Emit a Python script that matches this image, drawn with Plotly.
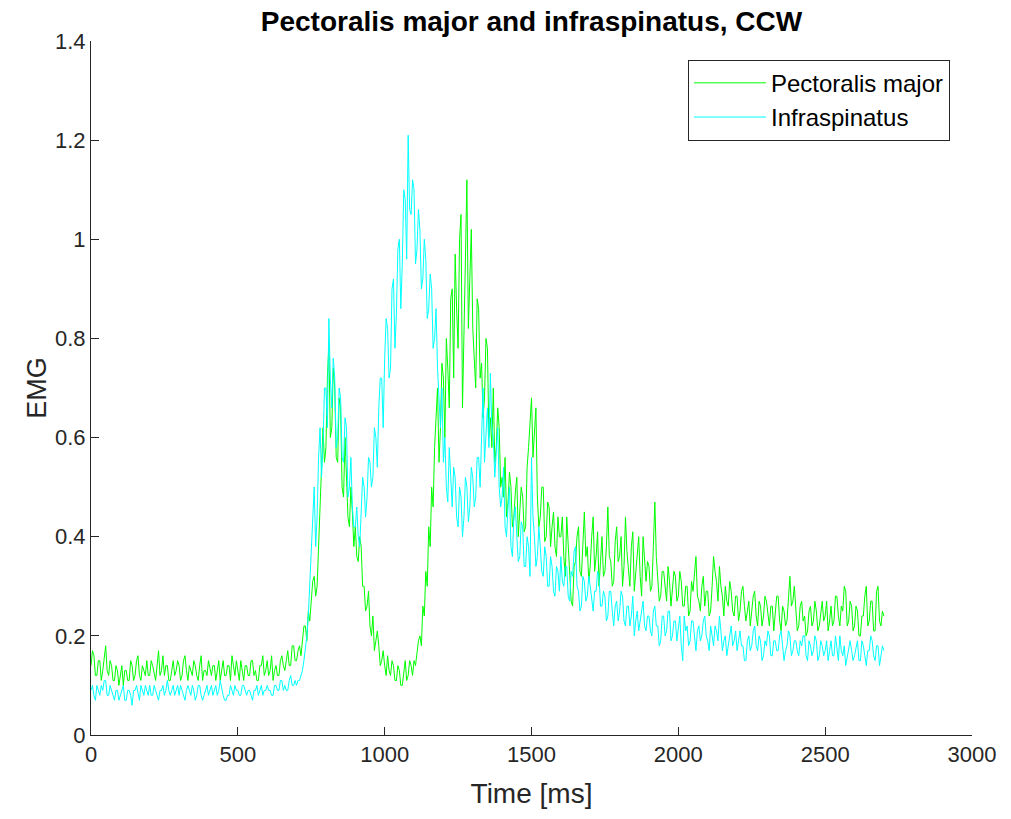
import plotly.graph_objects as go

# time axis: samples every 5 ms from 0 to 2700 ms
time_ms = list(range(0, 2701, 5))

pectoralis_major = [
    0.14, 0.17, 0.16, 0.12, 0.12, 0.15, 0.15, 0.11, 0.13, 0.16, 0.18, 0.13, 0.12, 0.15, 0.14, 0.11, 0.11, 0.14, 0.13, 0.10,
    0.12, 0.14, 0.10, 0.13, 0.13, 0.11, 0.11, 0.15, 0.14, 0.11, 0.12, 0.15, 0.16, 0.12, 0.11, 0.14, 0.13, 0.12, 0.15, 0.12,
    0.12, 0.15, 0.14, 0.12, 0.11, 0.14, 0.17, 0.12, 0.13, 0.16, 0.12, 0.14, 0.14, 0.11, 0.11, 0.13, 0.15, 0.12, 0.13, 0.15,
    0.14, 0.11, 0.12, 0.15, 0.16, 0.13, 0.11, 0.14, 0.13, 0.12, 0.15, 0.14, 0.12, 0.11, 0.14, 0.16, 0.11, 0.13, 0.13, 0.12,
    0.15, 0.13, 0.12, 0.14, 0.14, 0.11, 0.13, 0.15, 0.11, 0.13, 0.15, 0.12, 0.12, 0.14, 0.14, 0.11, 0.16, 0.14, 0.12, 0.15,
    0.13, 0.11, 0.15, 0.13, 0.11, 0.14, 0.14, 0.12, 0.12, 0.15, 0.15, 0.12, 0.13, 0.11, 0.11, 0.14, 0.14, 0.16, 0.12, 0.13,
    0.15, 0.12, 0.13, 0.16, 0.11, 0.13, 0.14, 0.12, 0.12, 0.15, 0.16, 0.14, 0.13, 0.15, 0.17, 0.14, 0.14, 0.18, 0.18, 0.15,
    0.15, 0.17, 0.18, 0.16, 0.20, 0.22, 0.22, 0.19, 0.25, 0.23, 0.27, 0.31, 0.32, 0.28, 0.30, 0.38, 0.45, 0.52, 0.62, 0.55,
    0.58, 0.72, 0.79, 0.60, 0.62, 0.74, 0.70, 0.56, 0.55, 0.68, 0.66, 0.50, 0.48, 0.60, 0.52, 0.44, 0.42, 0.50, 0.45, 0.38,
    0.42, 0.36, 0.35, 0.40, 0.38, 0.30, 0.30, 0.25, 0.26, 0.29, 0.22, 0.20, 0.24, 0.17, 0.19, 0.21, 0.18, 0.14, 0.15, 0.17,
    0.14, 0.12, 0.16, 0.13, 0.12, 0.15, 0.14, 0.11, 0.11, 0.14, 0.13, 0.10, 0.10, 0.13, 0.15, 0.11, 0.12, 0.15, 0.14, 0.12,
    0.15, 0.14, 0.17, 0.19, 0.20, 0.18, 0.26, 0.24, 0.33, 0.30, 0.42, 0.38, 0.50, 0.46, 0.58, 0.66, 0.70, 0.55, 0.62, 0.75,
    0.72, 0.60, 0.80, 0.74, 0.66, 0.88, 0.90, 0.72, 0.97, 0.86, 0.78, 1.00, 1.05, 0.66, 0.85, 0.96, 1.12, 0.82, 0.92, 1.02,
    0.82, 0.74, 0.70, 0.88, 0.86, 0.72, 0.75, 0.64, 0.68, 0.80, 0.78, 0.60, 0.64, 0.58, 0.70, 0.55, 0.58, 0.66, 0.62, 0.50,
    0.52, 0.48, 0.56, 0.44, 0.47, 0.53, 0.50, 0.42, 0.44, 0.49, 0.52, 0.40, 0.46, 0.50, 0.48, 0.41, 0.42, 0.54, 0.58, 0.62,
    0.68, 0.56, 0.62, 0.66, 0.48, 0.42, 0.44, 0.50, 0.50, 0.39, 0.40, 0.47, 0.46, 0.38, 0.42, 0.45, 0.38, 0.36, 0.44, 0.40,
    0.40, 0.44, 0.36, 0.32, 0.44, 0.38, 0.30, 0.27, 0.26, 0.34, 0.35, 0.40, 0.42, 0.33, 0.32, 0.40, 0.45, 0.36, 0.38, 0.31,
    0.34, 0.40, 0.44, 0.33, 0.36, 0.41, 0.30, 0.35, 0.40, 0.32, 0.33, 0.38, 0.46, 0.36, 0.35, 0.30, 0.31, 0.39, 0.42, 0.35,
    0.36, 0.40, 0.30, 0.34, 0.44, 0.37, 0.33, 0.30, 0.38, 0.41, 0.29, 0.33, 0.35, 0.40, 0.32, 0.28, 0.40, 0.36, 0.31, 0.35,
    0.34, 0.29, 0.30, 0.38, 0.47, 0.36, 0.32, 0.27, 0.28, 0.33, 0.33, 0.29, 0.27, 0.34, 0.31, 0.26, 0.29, 0.33, 0.32, 0.27,
    0.28, 0.33, 0.31, 0.26, 0.26, 0.30, 0.30, 0.24, 0.25, 0.31, 0.29, 0.33, 0.36, 0.28, 0.27, 0.25, 0.30, 0.32, 0.26, 0.29,
    0.29, 0.24, 0.25, 0.30, 0.36, 0.33, 0.31, 0.27, 0.34, 0.30, 0.28, 0.24, 0.30, 0.27, 0.26, 0.31, 0.29, 0.25, 0.24, 0.28,
    0.28, 0.23, 0.25, 0.29, 0.30, 0.26, 0.23, 0.25, 0.27, 0.22, 0.25, 0.28, 0.29, 0.24, 0.22, 0.27, 0.26, 0.22, 0.24, 0.28,
    0.27, 0.24, 0.22, 0.26, 0.26, 0.21, 0.24, 0.28, 0.28, 0.23, 0.21, 0.26, 0.25, 0.22, 0.23, 0.27, 0.32, 0.26, 0.27, 0.30,
    0.25, 0.21, 0.22, 0.26, 0.27, 0.23, 0.24, 0.20, 0.21, 0.25, 0.26, 0.22, 0.23, 0.27, 0.25, 0.21, 0.22, 0.25, 0.27, 0.23,
    0.24, 0.27, 0.21, 0.23, 0.26, 0.22, 0.23, 0.28, 0.28, 0.24, 0.22, 0.26, 0.25, 0.30, 0.29, 0.22, 0.23, 0.27, 0.26, 0.21,
    0.22, 0.26, 0.25, 0.20, 0.20, 0.24, 0.24, 0.28, 0.30, 0.22, 0.23, 0.27, 0.27, 0.21, 0.21, 0.29, 0.30, 0.23, 0.22, 0.25,
    0.24,
]

infraspinatus = [
    0.09, 0.10, 0.08, 0.07, 0.10, 0.09, 0.08, 0.10, 0.09, 0.11, 0.11, 0.08, 0.08, 0.10, 0.09, 0.08, 0.07, 0.09, 0.09, 0.07,
    0.08, 0.09, 0.10, 0.07, 0.07, 0.09, 0.09, 0.08, 0.06, 0.09, 0.09, 0.10, 0.08, 0.07, 0.10, 0.09, 0.08, 0.10, 0.09, 0.08,
    0.10, 0.08, 0.08, 0.10, 0.09, 0.08, 0.07, 0.09, 0.09, 0.10, 0.08, 0.09, 0.11, 0.09, 0.08, 0.09, 0.10, 0.08, 0.09, 0.10,
    0.08, 0.10, 0.09, 0.08, 0.07, 0.09, 0.10, 0.09, 0.08, 0.10, 0.09, 0.07, 0.08, 0.10, 0.10, 0.08, 0.07, 0.08, 0.09, 0.10,
    0.08, 0.09, 0.10, 0.08, 0.09, 0.10, 0.08, 0.09, 0.11, 0.09, 0.08, 0.07, 0.07, 0.08, 0.08, 0.10, 0.09, 0.08, 0.10, 0.09,
    0.09, 0.08, 0.08, 0.10, 0.10, 0.09, 0.08, 0.09, 0.09, 0.08, 0.07, 0.09, 0.09, 0.10, 0.08, 0.09, 0.10, 0.08, 0.09, 0.09,
    0.10, 0.09, 0.09, 0.08, 0.08, 0.10, 0.10, 0.09, 0.09, 0.11, 0.11, 0.09, 0.10, 0.09, 0.09, 0.11, 0.12, 0.10, 0.10, 0.11,
    0.10, 0.11, 0.11, 0.12, 0.13, 0.15, 0.17, 0.20, 0.24, 0.30, 0.36, 0.42, 0.50, 0.38, 0.44, 0.56, 0.62, 0.52, 0.58, 0.70,
    0.70, 0.62, 0.84, 0.72, 0.66, 0.76, 0.72, 0.58, 0.60, 0.70, 0.68, 0.56, 0.55, 0.64, 0.62, 0.48, 0.50, 0.56, 0.46, 0.42,
    0.42, 0.46, 0.40, 0.38, 0.46, 0.52, 0.50, 0.44, 0.48, 0.56, 0.55, 0.50, 0.52, 0.62, 0.60, 0.54, 0.66, 0.72, 0.72, 0.62,
    0.76, 0.84, 0.82, 0.72, 0.74, 0.90, 0.92, 0.78, 0.85, 0.98, 1.00, 0.86, 0.95, 1.10, 1.08, 0.96, 1.21, 1.06, 1.05, 1.12,
    1.10, 0.95, 0.98, 1.06, 1.02, 0.90, 0.92, 1.00, 0.96, 0.84, 0.86, 0.93, 0.90, 0.78, 0.80, 0.86, 0.74, 0.66, 0.62, 0.70,
    0.55, 0.60, 0.50, 0.47, 0.58, 0.52, 0.46, 0.54, 0.52, 0.44, 0.42, 0.50, 0.48, 0.40, 0.44, 0.52, 0.50, 0.43, 0.46, 0.54,
    0.52, 0.46, 0.48, 0.56, 0.56, 0.50, 0.62, 0.70, 0.55, 0.60, 0.66, 0.58, 0.73, 0.62, 0.60, 0.52, 0.56, 0.62, 0.50, 0.46,
    0.48, 0.54, 0.42, 0.40, 0.46, 0.50, 0.38, 0.36, 0.44, 0.46, 0.40, 0.35, 0.36, 0.43, 0.42, 0.34, 0.34, 0.40, 0.38, 0.32,
    0.56, 0.44, 0.40, 0.34, 0.36, 0.42, 0.38, 0.33, 0.32, 0.38, 0.36, 0.30, 0.30, 0.36, 0.34, 0.29, 0.28, 0.34, 0.33, 0.29,
    0.36, 0.31, 0.30, 0.34, 0.34, 0.28, 0.27, 0.33, 0.32, 0.37, 0.38, 0.30, 0.29, 0.25, 0.26, 0.32, 0.31, 0.27, 0.28, 0.32,
    0.30, 0.27, 0.25, 0.29, 0.29, 0.33, 0.32, 0.26, 0.26, 0.29, 0.28, 0.23, 0.24, 0.29, 0.29, 0.25, 0.22, 0.26, 0.27, 0.23,
    0.25, 0.29, 0.28, 0.23, 0.22, 0.26, 0.26, 0.22, 0.24, 0.28, 0.20, 0.23, 0.25, 0.21, 0.23, 0.26, 0.27, 0.22, 0.21, 0.24,
    0.24, 0.21, 0.20, 0.25, 0.26, 0.22, 0.22, 0.18, 0.19, 0.24, 0.24, 0.20, 0.21, 0.25, 0.25, 0.19, 0.20, 0.23, 0.23, 0.19,
    0.21, 0.24, 0.18, 0.15, 0.24, 0.21, 0.22, 0.18, 0.19, 0.23, 0.23, 0.19, 0.17, 0.21, 0.22, 0.19, 0.20, 0.23, 0.24, 0.20,
    0.19, 0.17, 0.22, 0.20, 0.18, 0.22, 0.21, 0.19, 0.24, 0.21, 0.17, 0.19, 0.20, 0.16, 0.18, 0.21, 0.22, 0.18, 0.19, 0.21,
    0.17, 0.19, 0.21, 0.18, 0.18, 0.15, 0.15, 0.19, 0.20, 0.17, 0.18, 0.21, 0.22, 0.18, 0.17, 0.20, 0.19, 0.15, 0.16, 0.19,
    0.18, 0.21, 0.20, 0.16, 0.16, 0.19, 0.19, 0.17, 0.17, 0.20, 0.21, 0.18, 0.15, 0.17, 0.18, 0.21, 0.20, 0.16, 0.17, 0.19,
    0.19, 0.17, 0.16, 0.19, 0.18, 0.20, 0.20, 0.16, 0.15, 0.19, 0.18, 0.16, 0.17, 0.20, 0.19, 0.15, 0.16, 0.19, 0.18, 0.16,
    0.17, 0.19, 0.15, 0.17, 0.19, 0.16, 0.16, 0.20, 0.18, 0.15, 0.20, 0.17, 0.16, 0.18, 0.14, 0.16, 0.18, 0.19, 0.17, 0.15,
    0.16, 0.18, 0.19, 0.15, 0.15, 0.19, 0.18, 0.16, 0.14, 0.17, 0.17, 0.20, 0.19, 0.16, 0.15, 0.18, 0.18, 0.14, 0.16, 0.18,
    0.17,
]

x_ticks = [0, 500, 1000, 1500, 2000, 2500, 3000]
y_ticks = [0, 0.2, 0.4, 0.6, 0.8, 1.0, 1.2, 1.4]
y_tick_labels = ["0", "0.2", "0.4", "0.6", "0.8", "1", "1.2", "1.4"]

FONT = "Liberation Sans, Arial, sans-serif"
AX = "#262626"

fig = go.Figure()
fig.add_trace(go.Scatter(x=time_ms, y=pectoralis_major, mode="lines",
                         name="Pectoralis major",
                         line=dict(color="#00FF00", width=1)))
fig.add_trace(go.Scatter(x=time_ms, y=infraspinatus, mode="lines",
                         name="Infraspinatus",
                         line=dict(color="#00FFFF", width=1)))

fig.update_layout(
    width=1011, height=819,
    margin=dict(l=91, r=39, t=41, b=84),
    paper_bgcolor="white", plot_bgcolor="white",
    font=dict(family=FONT, color=AX),
    title=dict(text="<b>Pectoralis major and infraspinatus, CCW</b>",
               x=0.5, xref="paper", xanchor="center",
               y=1 - 21 / 819, yanchor="middle",
               font=dict(family=FONT, size=28, color="black")),
    showlegend=True,
    legend=dict(x=0.975, y=0.973, xanchor="right", yanchor="top",
                bgcolor="white", bordercolor=AX, borderwidth=1,
                font=dict(family=FONT, size=24, color="black"),
                itemwidth=72, tracegroupgap=0),
    xaxis=dict(range=[0, 3000], tickvals=x_ticks,
               ticks="inside", ticklen=8, tickcolor=AX, tickwidth=1,
               showline=True, linecolor=AX, linewidth=1, mirror=False,
               showgrid=False, zeroline=False,
               tickfont=dict(family=FONT, size=22, color=AX),
               title=dict(text="Time [ms]", standoff=16,
                          font=dict(family=FONT, size=28, color=AX))),
    yaxis=dict(range=[0, 1.4], tickvals=y_ticks, ticktext=y_tick_labels,
               ticks="inside", ticklen=8, tickcolor=AX, tickwidth=1,
               showline=True, linecolor=AX, linewidth=1, mirror=False,
               showgrid=False, zeroline=False,
               tickfont=dict(family=FONT, size=22, color=AX),
               title=dict(text="EMG", standoff=0,
                          font=dict(family=FONT, size=27, color=AX))),
)

fig.write_html("out.html")
